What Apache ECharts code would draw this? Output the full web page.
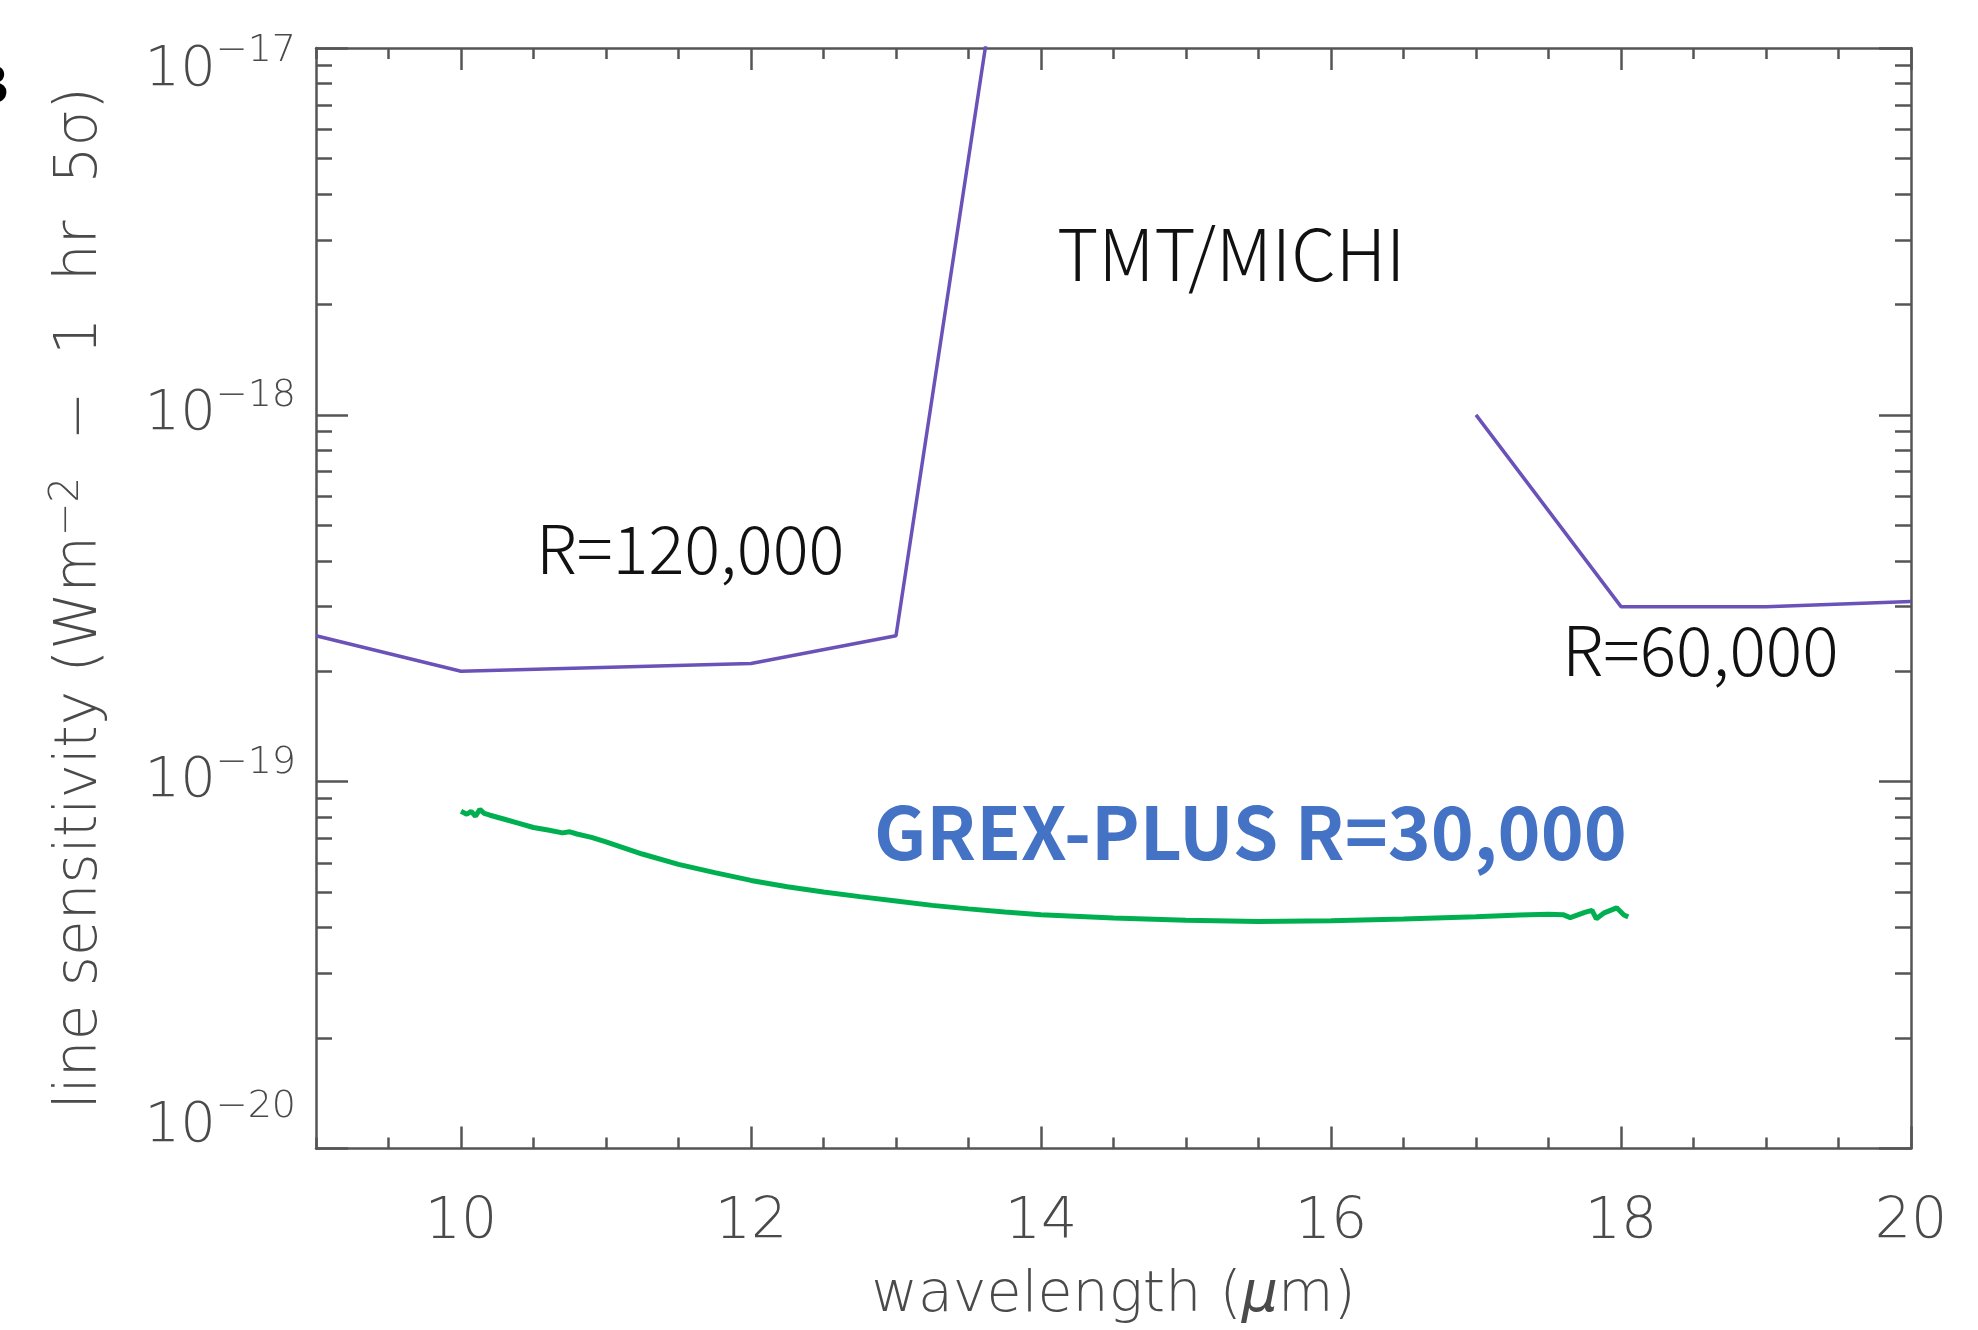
<!DOCTYPE html>
<html>
<head>
<meta charset="utf-8">
<script src="https://cdn.jsdelivr.net/npm/echarts@6/dist/echarts.min.js"></script>
<style>
html,body{margin:0;padding:0;background:#ffffff;}
#chart{width:1978px;height:1330px;}
</style>
</head>
<body>
<div id="chart"></div>
<script>
// ---------------- data ----------------
const xMajorTicks = [10, 12, 14, 16, 18, 20];
const yDecadeExponents = [-20, -19, -18, -17];
const yMinorMultipliers = [2, 3, 4, 5, 6, 7, 8, 9];

// TMT/MICHI line sensitivity (null = gap between R=120,000 and R=60,000 parts)
const michiWavelength  = [9,       10,      12,      13,      14,      15.5, 17,      18,      19,      20];
const michiSensitivity = [2.5e-19, 2.0e-19, 2.1e-19, 2.5e-19, 1.0e-16, null, 1.0e-18, 3.0e-19, 3.0e-19, 3.1e-19];

// GREX-PLUS R=30,000 line sensitivity
const grexWavelength = [10.00, 10.04, 10.07, 10.10, 10.13, 10.16, 10.20, 10.30, 10.40, 10.50, 10.60, 10.70, 10.75, 10.80, 10.90,
                        11.00, 11.25, 11.50, 11.75, 12.00, 12.25, 12.50, 12.75, 13.00, 13.25, 13.50, 13.75, 14.00, 14.50,
                        15.00, 15.50, 16.00, 16.50, 17.00, 17.30, 17.50, 17.60, 17.65, 17.75, 17.80, 17.83, 17.88, 17.97, 18.02, 18.05];
const grexSensitivity = [8.30e-20, 8.15e-20, 8.30e-20, 8.05e-20, 8.40e-20, 8.20e-20, 8.10e-20, 7.90e-20, 7.70e-20, 7.50e-20, 7.38e-20, 7.25e-20, 7.30e-20, 7.20e-20, 7.05e-20,
                         6.85e-20, 6.35e-20, 5.95e-20, 5.65e-20, 5.38e-20, 5.17e-20, 5.00e-20, 4.86e-20, 4.73e-20, 4.60e-20, 4.50e-20, 4.41e-20, 4.34e-20, 4.25e-20,
                         4.19e-20, 4.16e-20, 4.18e-20, 4.22e-20, 4.28e-20, 4.33e-20, 4.35e-20, 4.34e-20, 4.26e-20, 4.40e-20, 4.46e-20, 4.23e-20, 4.38e-20, 4.53e-20, 4.33e-20, 4.28e-20];

const annotationTexts = ['TMT/MICHI', 'R=120,000', 'R=60,000', 'GREX-PLUS R=30,000'];

// ---------------- build ----------------
const pairs = (xs, ys) => xs.map((x, i) => [x, ys[i] === null ? '-' : ys[i]]);
const yMajorValues = yDecadeExponents.map(e => Math.pow(10, e));
const yMinorLogValues = [];
yDecadeExponents.slice(0, -1).forEach(e => yMinorMultipliers.forEach(m => yMinorLogValues.push(e + Math.log10(m))));

const gray = '#555555';
const textGray = '#4a4a4a';
const tickFont = "'DejaVu Sans'";
const lineW = 2.5;

function majorX(pos, withLabel) {
  return {
    type: 'value', position: pos, min: 9, max: 20,
    axisLine: { show: true, onZero: false, lineStyle: { color: gray, width: lineW } },
    axisTick: { show: true, inside: true, length: 22, customValues: xMajorTicks, lineStyle: { color: gray, width: lineW } },
    axisLabel: withLabel ? {
      show: true, customValues: xMajorTicks, margin: 46, color: textGray,
      fontFamily: tickFont, fontWeight: 200, fontSize: 57, lineHeight: 58
    } : { show: false },
    splitLine: { show: false }
  };
}
function minorX(pos) {
  return {
    type: 'value', position: pos, min: 9, max: 20, interval: 0.5,
    axisLine: { show: false, onZero: false },
    axisTick: { show: true, inside: true, length: 11, lineStyle: { color: gray, width: lineW } },
    axisLabel: { show: false }, splitLine: { show: false }
  };
}
function majorY(pos, withLabel) {
  return {
    type: 'log', logBase: 10, position: pos, min: 1e-20, max: 1e-17,
    axisLine: { show: true, onZero: false, lineStyle: { color: gray, width: lineW } },
    axisTick: { show: true, inside: true, length: 32, customValues: yMajorValues, lineStyle: { color: gray, width: lineW } },
    axisLabel: withLabel ? {
      show: true, customValues: yMajorValues, margin: 20,
      formatter: function (v) {
        const e = Math.round(Math.log10(v));
        const core = '{b|10}{s|\u2212' + Math.abs(e) + '}';
        if (e === -17) return '{g| }\n' + core;
        if (e === -20) return core + '\n{g| }';
        return core;
      },
      rich: {
        b: { fontFamily: tickFont, fontWeight: 200, fontSize: 56, lineHeight: 76, color: textGray },
        s: { fontFamily: tickFont, fontWeight: 200, fontSize: 38, lineHeight: 36, color: textGray, verticalAlign: 'top' },
        g: { fontSize: 2, lineHeight: 44 }
      }
    } : { show: false },
    splitLine: { show: false }
  };
}
function minorY(pos) {
  return {
    type: 'value', position: pos, min: -20, max: -17,
    axisLine: { show: false, onZero: false },
    axisTick: { show: true, inside: true, length: 16, customValues: yMinorLogValues, lineStyle: { color: gray, width: lineW } },
    axisLabel: { show: false }, splitLine: { show: false }
  };
}

const xAxes = [majorX('bottom', true), minorX('bottom'), majorX('top', false), minorX('top')];
xAxes[0].name = '{t|wavelength (}{i|\u03bc}{t|m)}';
xAxes[0].nameLocation = 'middle';
xAxes[0].nameGap = 118;
xAxes[0].nameTextStyle = {
  rich: {
    t: { fontFamily: tickFont, fontWeight: 200, fontSize: 57, lineHeight: 60, color: textGray },
    i: { fontFamily: tickFont, fontWeight: 200, fontStyle: 'italic', fontSize: 57, lineHeight: 60, color: textGray }
  }
};

const yAxes = [majorY('left', true), minorY('left'), majorY('right', false), minorY('right')];
yAxes[0].name = '{t|line sensitivity (Wm}{s|\u22122}{t|  \u2212  1  hr  5\u03c3)}';
yAxes[0].nameLocation = 'middle';
yAxes[0].nameGap = 202;
yAxes[0].nameTextStyle = {
  rich: {
    t: { fontFamily: tickFont, fontWeight: 200, fontSize: 58, lineHeight: 66, color: textGray },
    s: { fontFamily: tickFont, fontWeight: 200, fontSize: 40, lineHeight: 40, color: textGray, verticalAlign: 'top' }
  }
};

const annFont = "'Noto Sans CJK JP'";
const option = {
  animation: false,
  backgroundColor: '#ffffff',
  grid: { left: 316, right: 67, top: 48, bottom: 178, containLabel: false },
  xAxis: xAxes,
  yAxis: yAxes,
  series: [
    {
      name: 'TMT/MICHI', type: 'line', xAxisIndex: 0, yAxisIndex: 0,
      data: pairs(michiWavelength, michiSensitivity),
      showSymbol: false, connectNulls: false, clip: true,
      lineStyle: { color: '#6B52B8', width: 3.5 }
    },
    {
      name: 'GREX-PLUS', type: 'line', xAxisIndex: 0, yAxisIndex: 0,
      data: pairs(grexWavelength, grexSensitivity),
      showSymbol: false, clip: true,
      lineStyle: { color: '#00B050', width: 5 }
    }
  ],
  graphic: [
    { type: 'text', x: 1057, y: 254, style: { text: annotationTexts[0], fill: '#111', font: "300 71px " + annFont, align: 'left', verticalAlign: 'middle' } },
    { type: 'text', x: 536, y: 549, style: { text: annotationTexts[1], fill: '#111', font: "300 67px " + annFont, align: 'left', verticalAlign: 'middle' } },
    { type: 'text', x: 1562, y: 650, style: { text: annotationTexts[2], fill: '#111', font: "300 68px " + annFont, align: 'left', verticalAlign: 'middle' } },
    { type: 'text', x: 874, y: 832, style: { text: annotationTexts[3], fill: '#4472C4', font: "700 73px " + annFont, align: 'left', verticalAlign: 'middle' } },
    { type: 'text', x: 9, y: 88, style: { text: 'B', fill: '#000', font: "700 56px 'Liberation Sans'", align: 'right', verticalAlign: 'middle' } }
  ]
};

const chart = echarts.init(document.getElementById('chart'), null, { renderer: 'canvas' });
chart.setOption(option);
</script>
</body>
</html>
